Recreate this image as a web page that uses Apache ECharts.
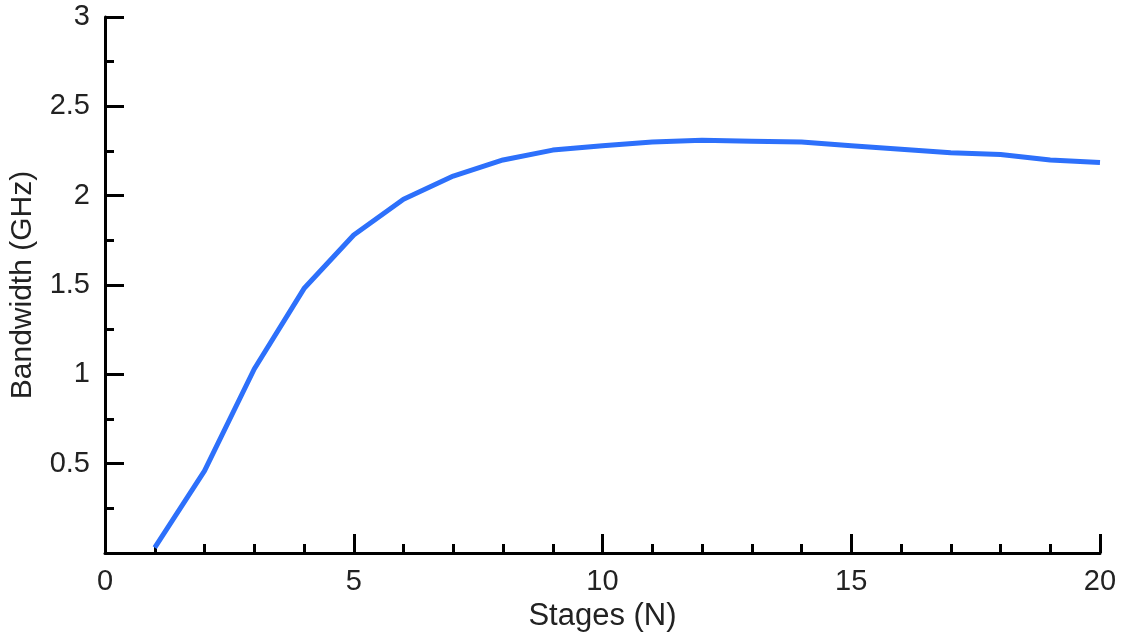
<!DOCTYPE html>
<html>
<head>
<meta charset="utf-8">
<script src="https://cdn.jsdelivr.net/npm/echarts@6/dist/echarts.min.js"></script>
<style>
  html, body { margin: 0; padding: 0; background: #fff; }
  #chart { width: 1122px; height: 640px; }
</style>
</head>
<body>
<div id="chart"></div>
<script>
// stages N and measured bandwidth (GHz)
const stages = [1, 2, 3, 4, 5, 6, 7, 8, 9, 10, 11, 12, 13, 14, 15, 16, 17, 18, 19, 20];
const bandwidth = [0.03, 0.46, 1.03, 1.48, 1.78, 1.98, 2.11, 2.20, 2.255, 2.28,
                   2.30, 2.31, 2.305, 2.30, 2.28, 2.26, 2.24, 2.23, 2.20, 2.185];

const chart = echarts.init(document.getElementById('chart'));

const fontFamily = '"Liberation Sans", Arial, Helvetica, sans-serif';
const axisLine = { show: true, onZero: false, lineStyle: { color: '#000', width: 3 } };
const tickStyle = { color: '#000', width: 3 };

chart.setOption({
  animation: false,
  grid: { left: 105, right: 22, top: 17, bottom: 87 },
  xAxis: {
    type: 'value',
    min: 0,
    max: 20,
    interval: 5,
    name: 'Stages (N)',
    nameLocation: 'middle',
    nameGap: 45,
    nameTextStyle: { fontSize: 31, color: '#222', fontFamily },
    axisLine,
    axisTick: { inside: true, length: 19, lineStyle: tickStyle },
    minorTick: { show: true, splitNumber: 5, length: 9, lineStyle: tickStyle },
    axisLabel: { fontSize: 29, color: '#222', margin: 14, fontFamily },
    splitLine: { show: false }
  },
  yAxis: {
    type: 'value',
    min: 0,
    max: 3,
    interval: 0.5,
    name: 'Bandwidth (GHz)',
    nameLocation: 'middle',
    nameGap: 67,
    nameTextStyle: { fontSize: 30, color: '#222', fontFamily },
    axisLine,
    axisTick: { inside: true, length: 19, lineStyle: tickStyle },
    minorTick: { show: true, splitNumber: 2, length: 9, lineStyle: tickStyle },
    axisLabel: {
      fontSize: 29, color: '#222', margin: 15, fontFamily,
      formatter: v => (v === 0 ? '' : String(v))
    },
    splitLine: { show: false }
  },
  series: [{
    type: 'line',
    data: stages.map((n, i) => [n, bandwidth[i]]),
    showSymbol: false,
    lineStyle: { color: '#2d70fb', width: 5 },
    itemStyle: { color: '#2d70fb' }
  }]
});
</script>
</body>
</html>
